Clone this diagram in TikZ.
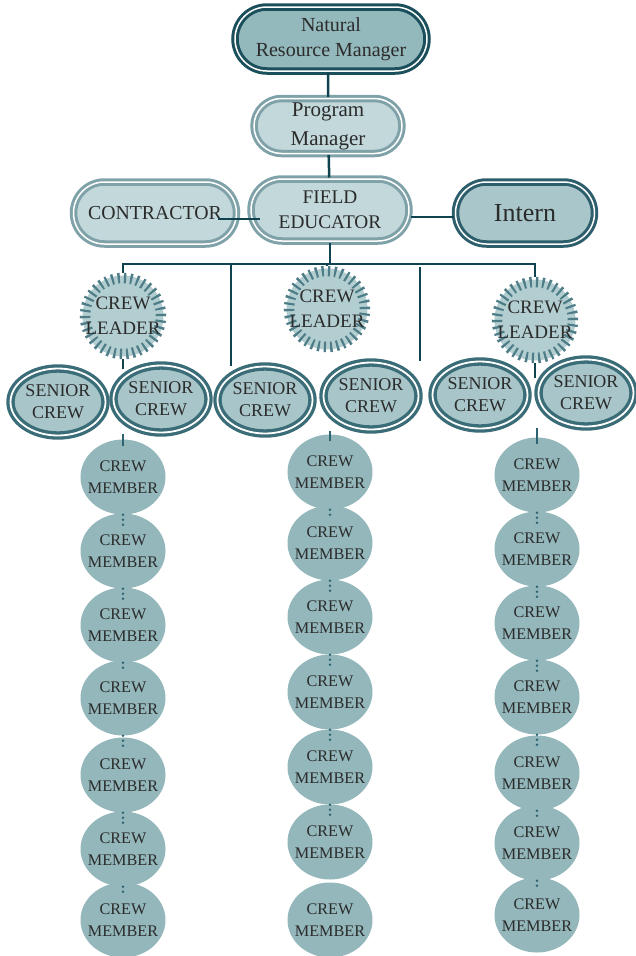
\documentclass[tikz,border=0pt]{standalone}
\usepackage{fontspec}
\setmainfont{Liberation Serif}
\usepackage{tikz}
\usetikzlibrary{shapes.geometric,shapes.misc}
\definecolor{ink}{HTML}{2B2B2B}
\definecolor{wire}{HTML}{0F4350}
\definecolor{deep}{HTML}{1A4F5B}
\definecolor{bossfill}{HTML}{94B9BD}
\definecolor{paleline}{HTML}{7FA2A9}
\definecolor{palefill}{HTML}{C2D8DB}
\definecolor{internline}{HTML}{2C5E6B}
\definecolor{internfill}{HTML}{A9C7CB}
\definecolor{seniorline}{HTML}{3B6D78}
\definecolor{seniorfill}{HTML}{A8C6CA}
\definecolor{tickcol}{HTML}{4E7D88}
\definecolor{leaderfill}{HTML}{B3CED1}
\definecolor{memberfill}{HTML}{93B7BB}
\definecolor{dotcol}{HTML}{2E6472}

\begin{document}
\begin{tikzpicture}[x=1pt,y=-1pt,
  ring/.style={rounded rectangle,double=white,double distance=1.5pt,line width=3pt,
    text=ink,align=center,inner sep=0pt},
  boss/.style={ring,draw=deep,fill=bossfill},
  pale/.style={ring,draw=paleline,fill=palefill},
  intern/.style={ring,draw=internline,fill=internfill},
  senior/.style={ellipse,draw=seniorline,double=white,double distance=1.8pt,line width=3.3pt,
    fill=seniorfill,text=ink,align=center,inner sep=-15pt,minimum width=95pt,minimum height=67pt,
    font=\fontsize{18}{22}\selectfont},
  leader/.style={circle,preaction={draw=leaderfill,line width=5pt,solid},fill=leaderfill,
    draw=tickcol,line width=10.5pt,dash pattern=on 2.2pt off 4.08pt,minimum size=76pt,
    inner sep=-15pt,text=ink,align=center,font=\fontsize{19}{25}\selectfont},
  member/.style={ellipse,fill=memberfill,minimum width=85pt,minimum height=75pt,inner sep=-15pt,
    text=ink,align=center,font=\fontsize{16.2}{22}\selectfont},
  conn/.style={draw=wire,line width=2.5pt},
  stub/.style={draw=dotcol,line width=1.1pt},
  dots/.style={draw=dotcol,line width=2.6pt,line cap=round,dash pattern=on 0pt off 5pt}
  ]
\useasboundingbox (0,0) rectangle (636,956);

\node[boss,minimum width=192pt,minimum height=64pt,font=\fontsize{20}{25}\selectfont]
  (nrm) at (331,39) {Natural\\Resource Manager};
\node[pale,minimum width=148pt,minimum height=55pt,font=\fontsize{21}{29}\selectfont]
  (pm) at (328,126) {Program\\Manager};
\node[pale,minimum width=158pt,minimum height=62pt,font=\fontsize{19.3}{25}\selectfont]
  (fe) at (330,210) {FIELD\\EDUCATOR};
\node[pale,minimum width=163pt,minimum height=62pt,font=\fontsize{19.8}{24}\selectfont]
  (contr) at (155,213) {CONTRACTOR};
\node[intern,minimum width=139pt,minimum height=62pt,font=\fontsize{26}{30}\selectfont]
  (intern) at (525,213) {Intern};

\node[leader] (l1) at (123,316) {CREW\\LEADER};
\node[leader] (l2) at (327,309) {CREW\\LEADER};
\node[leader] (l3) at (535,320) {CREW\\LEADER};

\node[senior] (s1) at (58,402) {SENIOR\\CREW};
\node[senior] (s2) at (161,399) {SENIOR\\CREW};
\node[senior] (s3) at (265,400) {SENIOR\\CREW};
\node[senior] (s4) at (371,396) {SENIOR\\CREW};
\node[senior] (s5) at (480,395) {SENIOR\\CREW};
\node[senior] (s6) at (586,393) {SENIOR\\CREW};

\foreach \y [count=\i] in {477,551,625,698,775,849,920}
  \node[member] (a\i) at (123,\y) {CREW\\MEMBER};
\foreach \y [count=\i] in {472,543,617,692,767,842,920}
  \node[member] (b\i) at (330,\y) {CREW\\MEMBER};
\foreach \y [count=\i] in {475,549,623,697,773,843,915}
  \node[member] (c\i) at (537,\y) {CREW\\MEMBER};

\coordinate (bus) at (0,264);
\coordinate (d1) at (231,366);
\coordinate (d2top) at (420,267);
\coordinate (d2) at (420,361);
\coordinate (j1) at (123,369);
\coordinate (j3) at (535,378);

\draw[conn] (pm) -- (pm |- nrm.south);
\draw[conn] (pm) -- (fe);
\draw[conn] ([shift={(-20pt,-6pt)}]contr.east) -- ([shift={(10pt,-9pt)}]fe.west);
\draw[conn] ([yshift=-7pt]fe.east) -- ([yshift=-4pt]intern.west);
\draw[conn] (fe) -- (fe |- bus);
\draw[conn] (l1) -- (l1 |- bus) -- (l3 |- bus) -- (l3);
\draw[conn] (l2) -- (l2 |- bus);
\draw[conn] (d1 |- bus) -- (d1);
\draw[conn] (d2top) -- (d2);
\draw[conn] (l1) -- (j1);
\draw[conn] (l3) -- (j3);

\draw[stub] ([yshift=-7pt]a1.north) -- (a1.north |- s2.south);
\draw[stub] ([yshift=-7pt]b1.north) -- (b1.north |- s4.south);
\draw[stub] ([yshift=-7pt]c1.north) -- (c1.north |- s6.south);

\foreach \i/\j in {1/2,2/3,3/4,4/5,5/6,6/7}
  \draw[dots] (a\i.south) -- ([yshift=-12pt]a\j.north);
\foreach \i/\j in {1/2,2/3,3/4,4/5,5/6}
  \draw[dots] (b\i.south) -- ([yshift=-12pt]b\j.north);
\foreach \i/\j in {1/2,2/3,3/4,4/5,5/6,6/7}
  \draw[dots] (c\i.south) -- ([yshift=-12pt]c\j.north);
\end{tikzpicture}
\end{document}
